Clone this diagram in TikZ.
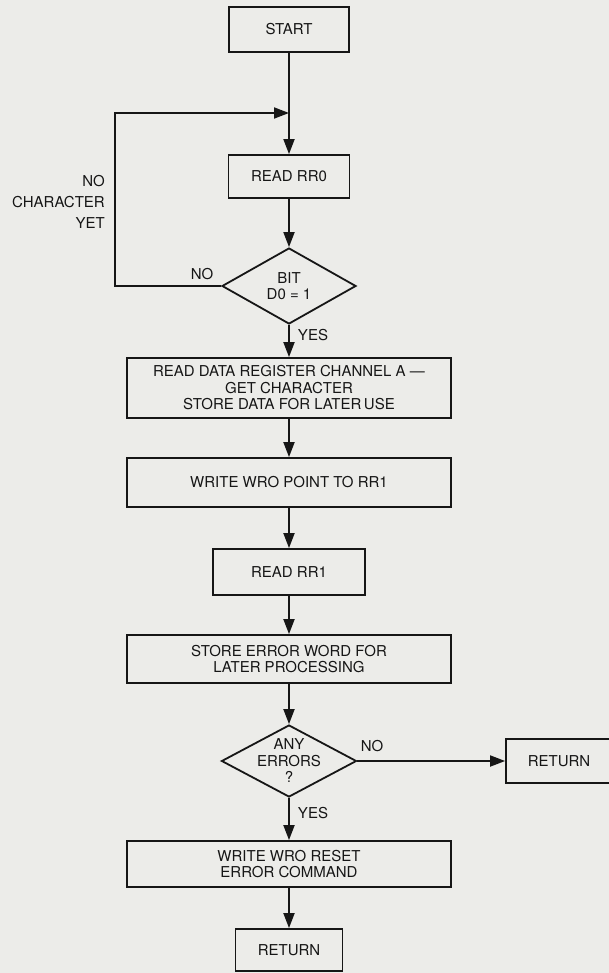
\documentclass[tikz,border=0pt]{standalone}
\usepackage{fontspec}
\setmainfont{TeX Gyre Heros}
\usetikzlibrary{shapes.geometric,arrows.meta}
\definecolor{paper}{RGB}{236,236,233}
\definecolor{ink}{RGB}{22,22,22}
\begin{document}
\begin{tikzpicture}[x=1pt,y=-1pt,
  txt/.style={font=\fontsize{15}{16.5}\selectfont, text=ink},
  box/.style={txt, draw=ink, line width=1.8pt, align=center, inner sep=0pt},
  dia/.style={box, shape=diamond, aspect=1.76, inner sep=-12pt},
  lbl/.style={txt, inner sep=0pt},
  conn/.style={draw=ink, line width=1.8pt, -{Triangle[length=15pt,width=11pt]}},
  line/.style={draw=ink, line width=1.8pt}]
\fill[paper] (0,0) rectangle (609,973);
\useasboundingbox (0,0) rectangle (609,973);
\clip (0,0) rectangle (609,973);

\node[box, minimum width=120pt, minimum height=45pt] (start) at (289,29.5) {START};
\node[box, minimum width=121pt, minimum height=43pt] (rr0) at (289,176.5) {READ RR0};
\node[dia, minimum width=134pt, minimum height=76pt] (bit) at (289,286) {BIT\\D0 = 1};
\node[box, minimum width=324pt, minimum height=60pt] (rdata) at (289,388) {READ DATA REGISTER CHANNEL A ---\\GET CHARACTER\\STORE DATA FOR LATER\,USE};
\node[box, minimum width=324pt, minimum height=49pt] (wpoint) at (289,482.5) {WRITE WRO POINT TO RR1};
\node[box, minimum width=152pt, minimum height=46pt] (rr1) at (289,572) {READ RR1};
\node[box, minimum width=324pt, minimum height=48pt] (store) at (289,659) {STORE ERROR WORD FOR\\LATER PROCESSING};
\node[dia, minimum width=135pt, minimum height=72pt] (any) at (289,761) {ANY\\ERRORS\\?};
\node[box, minimum width=106pt, minimum height=44pt] (ret1) at (559,761) {RETURN};
\node[box, minimum width=324pt, minimum height=46pt] (reset) at (289,864) {WRITE WRO RESET\\ERROR COMMAND};
\node[box, minimum width=107pt, minimum height=42pt] (ret2) at (289,950) {RETURN};

\node[lbl, align=right, anchor=east, font=\fontsize{15}{21}\selectfont] (nochar) at (105,202) {NO\\CHARACTER\\YET};
\node[lbl] (no1) at (202,274) {NO};
\node[lbl] (yes1) at (313,335) {YES};
\node[lbl] (no2) at (372,746) {NO};
\node[lbl] (yes2) at (313,813) {YES};

\coordinate (corner) at (115,113);
\coordinate (join) at (289,113);

\draw[conn] (start) -- (rr0);
\draw[conn] (rr0) -- (bit);
\draw[conn] (bit.west) -- (bit.west -| corner) -- (corner) -- (join);
\draw[conn] (bit) -- (rdata);
\draw[conn] (rdata) -- (wpoint);
\draw[conn] (wpoint) -- (rr1);
\draw[conn] (rr1) -- (store);
\draw[conn] (store) -- (any);
\draw[conn] (any) -- (ret1);
\draw[conn] (any) -- (reset);
\draw[conn] (reset) -- (ret2);
\end{tikzpicture}
\end{document}
